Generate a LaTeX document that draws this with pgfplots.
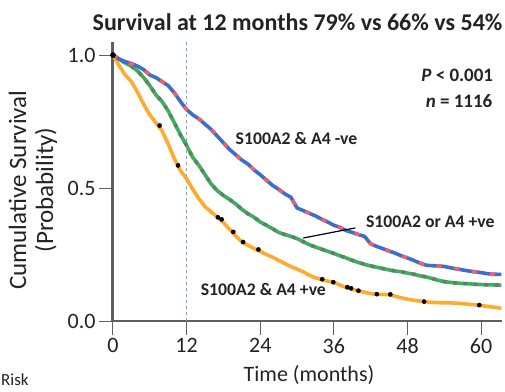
\documentclass[border=0pt]{standalone}
\usepackage{pgfplots}
\usepackage{pgfplotstable}
\pgfplotsset{compat=1.18}
\usepackage{fontspec}
\setmainfont{Carlito}
\definecolor{kmblue}{RGB}{62,110,205}
\definecolor{kmred}{RGB}{242,95,105}
\definecolor{kmgreen}{RGB}{52,180,88}
\definecolor{kmgrey}{RGB}{115,115,115}
\definecolor{kmorange}{RGB}{253,172,48}
\definecolor{axgrey}{RGB}{95,95,95}
\definecolor{ltblue}{RGB}{120,170,205}
\definecolor{txt}{RGB}{35,35,35}

\pgfplotstableread{
t s
0 1.0
1 0.985
2 0.975
3 0.968
4 0.958
5 0.945
6 0.925
7 0.915
8 0.90
9 0.885
10 0.858
11 0.825
12 0.795
13 0.775
14 0.76
15 0.74
16 0.72
17 0.695
18 0.67
19 0.645
20 0.625
21 0.605
22 0.59
23 0.568
24 0.55
25 0.53
26 0.51
27 0.495
28 0.478
29 0.465
30 0.425
31 0.415
32 0.405
33 0.395
34 0.383
35 0.372
36 0.36
37 0.352
38 0.34
39 0.333
40 0.325
41 0.318
42 0.29
43 0.28
44 0.272
45 0.263
46 0.255
47 0.245
48 0.237
49 0.228
50 0.218
51 0.21
52 0.208
53 0.207
54 0.205
55 0.2
56 0.196
57 0.192
58 0.188
59 0.185
60 0.182
61 0.178
62 0.176
63.3 0.175
}\neg

\pgfplotstableread{
t s
0 1.0
1 0.985
2 0.97
3 0.958
4 0.94
5 0.915
6 0.885
7 0.85
8 0.825
9 0.79
10 0.745
11 0.70
12 0.66
13 0.615
14 0.585
15 0.55
16 0.515
17 0.49
18 0.472
19 0.457
20 0.44
21 0.42
22 0.403
23 0.39
24 0.372
25 0.36
26 0.347
27 0.333
28 0.325
29 0.318
30 0.31
31 0.298
32 0.287
33 0.278
34 0.27
35 0.262
36 0.254
37 0.245
38 0.237
39 0.228
40 0.22
41 0.213
42 0.207
43 0.202
44 0.197
45 0.192
46 0.188
47 0.185
48 0.18
49 0.176
50 0.17
51 0.166
52 0.16
53 0.153
54 0.148
55 0.145
56 0.143
57 0.141
58 0.14
59 0.138
60 0.137
61 0.136
63.3 0.135
}\either

\pgfplotstableread{
t s
0 1.0
1 0.96
2 0.925
3 0.9
4 0.86
5 0.815
6 0.775
7 0.745
8 0.715
9 0.665
10 0.61
11 0.565
12 0.535
13 0.495
14 0.46
15 0.43
16 0.41
17 0.39
18 0.37
19 0.345
20 0.32
21 0.297
22 0.285
23 0.272
24 0.262
25 0.25
26 0.24
27 0.228
28 0.216
29 0.205
30 0.195
31 0.185
32 0.172
33 0.162
34 0.156
35 0.15
36 0.145
37 0.135
38 0.126
39 0.12
40 0.113
41 0.108
42 0.103
43 0.1
44 0.1
45 0.099
46 0.093
47 0.087
48 0.082
49 0.078
50 0.075
51 0.072
52 0.07
53 0.069
54 0.068
55 0.068
56 0.067
57 0.065
58 0.063
59 0.061
60 0.058
61 0.055
62 0.052
63.3 0.048
}\both

\pgfplotstableread{
t s
0 1.0
7.6 0.735
10.6 0.585
17.1 0.39
17.7 0.382
19.6 0.335
21.2 0.297
23.7 0.269
34.1 0.157
35.9 0.146
38.2 0.127
38.8 0.123
40.0 0.114
43.0 0.101
45.2 0.100
50.7 0.073
59.7 0.060
}\cens

\begin{document}
\begin{tikzpicture}
\begin{axis}[
  scale only axis, width=389pt, height=279pt,
  xmin=0, xmax=63.4, ymin=0, ymax=1.049,
  axis lines*=left,
  x axis line style={color=axgrey, line width=1.4pt},
  y axis line style={color=axgrey, line width=3pt},
  xtick={0,12,24,36,48,60}, xticklabels={0,12,24,36,48,60},
  ytick={0,0.5,1}, yticklabels={0.0,0.5,1.0},
  tick align=outside, major tick length=14pt,
  tick style={color=axgrey, line width=1pt},
  tick label style={font=\fontsize{22}{24}\selectfont, text=txt},
  /pgf/number format/assume math mode=true,
  clip=false,
]
\draw[dashed, ltblue, line width=0.6pt] (axis cs:12,0) -- (axis cs:12,1.049);
\addplot[kmorange, line width=3.6pt, sharp plot, line join=round] table[x=t,y=s] {\both};
\addplot[only marks, mark=*, mark size=2.1pt, black] table[x=t,y=s] {\cens};
\addplot[kmgreen, line width=3.6pt, sharp plot, line join=round] table[x=t,y=s] {\either};
\addplot[kmgrey, line width=3.6pt, sharp plot, dash pattern=on 3.5pt off 7pt] table[x=t,y=s] {\either};
\addplot[kmblue, line width=3.6pt, sharp plot, line join=round] table[x=t,y=s] {\neg};
\addplot[kmred, line width=3.6pt, sharp plot, dash pattern=on 5pt off 13pt] table[x=t,y=s] {\neg};
\addplot[only marks, mark=*, mark size=2.6pt, black] coordinates {(0,1)};
\draw[black, line width=1.2pt] (axis cs:31.0,0.312) -- (axis cs:39.5,0.350);
\node[font=\bfseries\fontsize{19}{22}\selectfont, text=txt] at (axis cs:56.1,0.925) {\textit{P} < 0.001};
\node[font=\bfseries\fontsize{19}{22}\selectfont, text=txt] at (axis cs:56.4,0.827) {\textit{n} = 1116};
\node[font=\bfseries\fontsize{17.7}{20}\selectfont, text=txt] at (axis cs:29.9,0.688) {S100A2 \& A4 -ve};
\node[font=\bfseries\fontsize{17.7}{20}\selectfont, text=txt] at (axis cs:51.7,0.372) {S100A2 or A4 +ve};
\node[font=\bfseries\fontsize{17.7}{20}\selectfont, text=txt] at (axis cs:24.5,0.117) {S100A2 \& A4 +ve};
\end{axis}
\node[font=\bfseries\fontsize{24}{27}\selectfont, text=txt] at (184.5pt,299pt) {Survival at 12 months 79\% vs 66\% vs 54\%};
\node[rotate=90, align=center, font=\fontsize{25}{27}\selectfont, text=txt] at (-80pt,131pt) {Cumulative Survival\\(Probability)};
\node[font=\fontsize{22}{24}\selectfont, text=txt] at (196pt,-54pt) {Time (months)};
\node[anchor=north west, font=\fontsize{17}{19}\selectfont, text=txt, inner sep=0pt] at (-112pt,-52pt) {Risk};
\pgfresetboundingbox
\path (-113pt,-70pt) rectangle (392pt,321pt);
\end{tikzpicture}
\end{document}
